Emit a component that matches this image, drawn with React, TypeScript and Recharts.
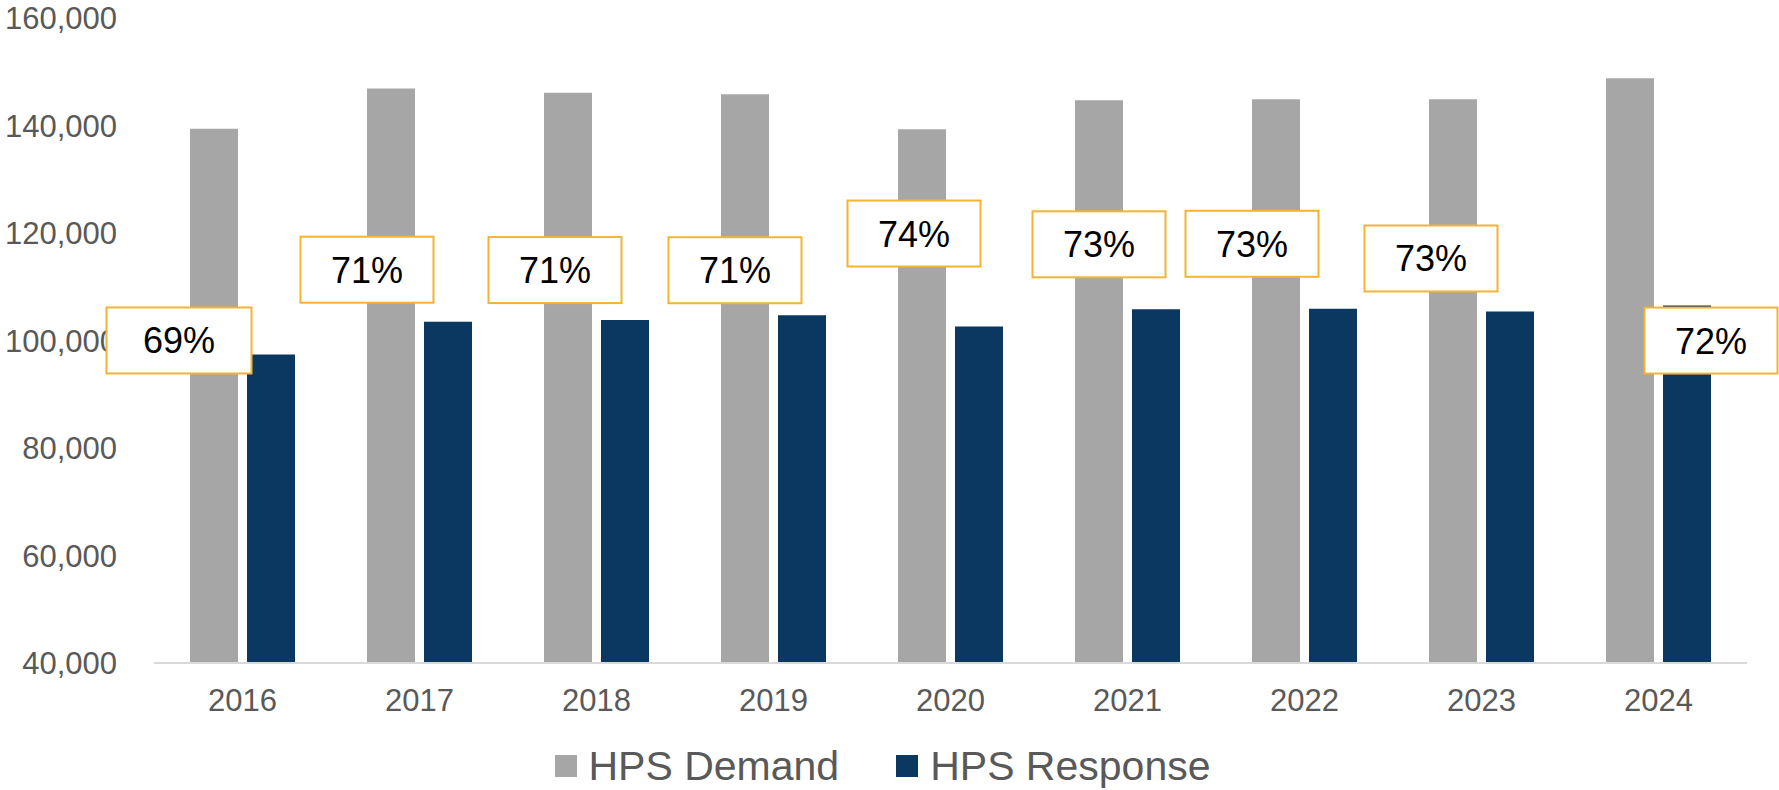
import { BarChart, Bar, XAxis, YAxis, Legend, LabelList } from 'recharts'

const YEARS = ['2016', '2017', '2018', '2019', '2020', '2021', '2022', '2023', '2024']
const DEMAND = [139400, 146900, 146100, 145800, 139300, 144700, 144900, 144900, 148800]
const RESPONSE = [97400, 103500, 103800, 104700, 102600, 105800, 105900, 105400, 106500]
const RESPONSE_RATE = ['69%', '71%', '71%', '71%', '74%', '73%', '73%', '73%', '72%']
const Y_TICKS = [40000, 60000, 80000, 100000, 120000, 140000, 160000]

const GRAY = '#A6A6A6'
const NAVY = '#0B3861'
const GOLD = '#F4B331'
const TEXT = '#595959'
const FONT = '"Liberation Sans", Arial, sans-serif'

// callouts were placed by hand in the original deck: box centre relative to top-centre of the response bar
const CALLOUTS = [
  { dx: -92, dy: -14, w: 145 },
  { dx: -81, dy: -52, w: 133 },
  { dx: -70, dy: -50, w: 133 },
  { dx: -67, dy: -45, w: 133 },
  { dx: -65, dy: -93, w: 133 },
  { dx: -57, dy: -65, w: 133 },
  { dx: -81, dy: -65, w: 133 },
  { dx: -79, dy: -53, w: 133 },
  { dx: 24, dy: 35, w: 133 },
]

const data = YEARS.map((year, i) => ({
  year,
  demand: DEMAND[i],
  response: RESPONSE[i],
  rate: RESPONSE_RATE[i],
}))

function RateCallout(props: any) {
  const { x, y, width, index, value } = props
  const c = CALLOUTS[index]
  if (!c) return null
  const cx = Number(x) + Number(width) / 2 + c.dx
  const cy = Number(y) + c.dy
  return (
    <g>
      <rect x={cx - c.w / 2} y={cy - 33} width={c.w} height={66} fill="#fff" stroke={GOLD} strokeWidth={2} />
      <text x={cx} y={cy + 13} textAnchor="middle" fontSize={36} fontFamily={FONT} fill="#000">
        {value}
      </text>
    </g>
  )
}

function LegendContent(props: any) {
  const items = props.payload || []
  return (
    <div
      style={{
        display: 'flex',
        justifyContent: 'center',
        alignItems: 'center',
        height: 50,
        paddingRight: 14,
        fontFamily: FONT,
        fontSize: 41,
        color: TEXT,
      }}
    >
      {items.map((item: any, i: number) => (
        <div key={item.value} style={{ display: 'flex', alignItems: 'center', marginLeft: i ? 57 : 0 }}>
          <span style={{ width: 22, height: 22, background: item.color, marginRight: 12 }} />
          <span>{item.value}</span>
        </div>
      ))}
    </div>
  )
}

export default function App() {
  return (
    <div style={{ position: 'absolute', left: 0, top: 0, background: '#fff' }}>
      <BarChart
        width={1779}
        height={790}
        data={data}
        margin={{ top: 18, right: 32, bottom: 17, left: 0 }}
        barGap={9}
        barSize={48}
      >
        <XAxis
          dataKey="year"
          tickLine={false}
          tickSize={0}
          tickMargin={26}
          height={60}
          axisLine={{ stroke: '#D9D9D9', strokeWidth: 2 }}
          tick={{ fontSize: 31, fill: TEXT, fontFamily: FONT }}
        />
        <YAxis
          width={154}
          domain={[40000, 160000]}
          ticks={Y_TICKS}
          allowDataOverflow
          axisLine={false}
          tickLine={false}
          tickSize={0}
          tickMargin={37}
          tickFormatter={(v: number) => v.toLocaleString('en-US')}
          tick={{ fontSize: 31, fill: TEXT, fontFamily: FONT }}
        />
        <Legend
          verticalAlign="bottom"
          content={<LegendContent />}
          wrapperStyle={{ top: 741, bottom: 'auto', left: 0, width: 1779, height: 50 }}
        />
        <Bar dataKey="demand" name="HPS Demand" fill={GRAY} isAnimationActive={false} />
        <Bar dataKey="response" name="HPS Response" fill={NAVY} isAnimationActive={false}>
          <LabelList dataKey="rate" content={<RateCallout />} />
        </Bar>
      </BarChart>
    </div>
  )
}
